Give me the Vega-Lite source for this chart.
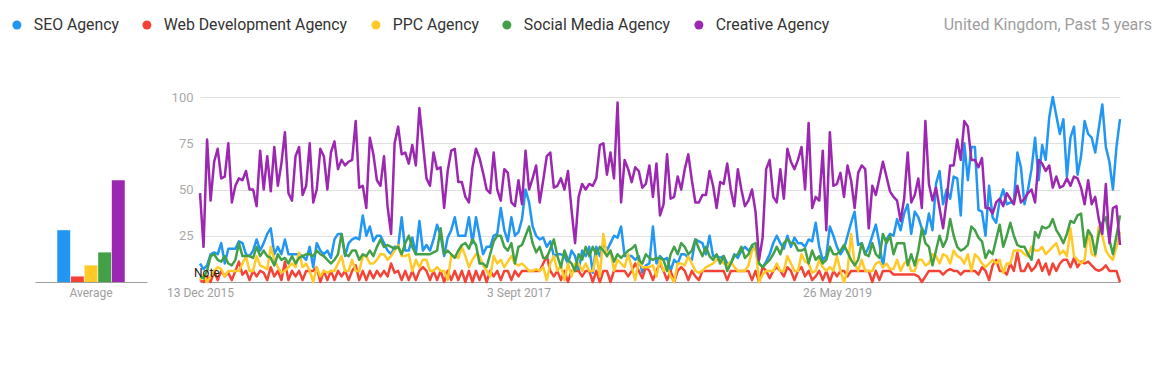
{
"$schema": "https://vega.github.io/schema/vega-lite/v6.json",
"background": "white",
"padding": {"left": 9, "top": 17, "right": 5, "bottom": 5},
"bounds": "flush",
"spacing": 53,
"config": {"font": "Roboto", "view": {"stroke": null}, "axis": {"labelFont": "Roboto"}, "legend": {"labelFont": "Roboto"}},
"datasets": {
"names": [
{"k":"S","name":"SEO Agency","avg":28,"g":"Average"},
{"k":"W","name":"Web Development Agency","avg":3,"g":"Average"},
{"k":"P","name":"PPC Agency","avg":9,"g":"Average"},
{"k":"M","name":"Social Media Agency","avg":16,"g":"Average"},
{"k":"C","name":"Creative Agency","avg":55,"g":"Average"}
],
"trends": [
{"d":"2015-12-13","S":10,"W":1,"P":1,"M":3,"C":48},
{"d":"2015-12-20","S":7,"W":0,"P":4,"M":2,"C":19},
{"d":"2015-12-27","S":9,"W":3,"P":0,"M":6,"C":77},
{"d":"2016-01-03","S":15,"W":0,"P":3,"M":14,"C":44},
{"d":"2016-01-10","S":16,"W":6,"P":6,"M":15,"C":65},
{"d":"2016-01-17","S":15,"W":1,"P":8,"M":12,"C":72},
{"d":"2016-01-24","S":21,"W":6,"P":7,"M":11,"C":56},
{"d":"2016-01-31","S":10,"W":3,"P":3,"M":14,"C":57},
{"d":"2016-02-07","S":18,"W":5,"P":6,"M":10,"C":75},
{"d":"2016-02-14","S":18,"W":1,"P":6,"M":9,"C":43},
{"d":"2016-02-21","S":18,"W":6,"P":6,"M":12,"C":52},
{"d":"2016-02-28","S":22,"W":11,"P":6,"M":21,"C":56},
{"d":"2016-03-06","S":21,"W":4,"P":10,"M":14,"C":55},
{"d":"2016-03-13","S":15,"W":6,"P":14,"M":14,"C":60},
{"d":"2016-03-20","S":14,"W":1,"P":6,"M":14,"C":50},
{"d":"2016-03-27","S":17,"W":6,"P":6,"M":13,"C":50},
{"d":"2016-04-03","S":23,"W":3,"P":14,"M":19,"C":41},
{"d":"2016-04-10","S":17,"W":6,"P":9,"M":14,"C":71},
{"d":"2016-04-17","S":21,"W":5,"P":8,"M":17,"C":50},
{"d":"2016-04-24","S":26,"W":1,"P":7,"M":14,"C":68},
{"d":"2016-05-01","S":29,"W":8,"P":19,"M":13,"C":49},
{"d":"2016-05-08","S":15,"W":3,"P":12,"M":9,"C":73},
{"d":"2016-05-15","S":19,"W":6,"P":8,"M":15,"C":52},
{"d":"2016-05-22","S":15,"W":1,"P":5,"M":12,"C":64},
{"d":"2016-05-29","S":23,"W":11,"P":6,"M":13,"C":81},
{"d":"2016-06-05","S":15,"W":1,"P":8,"M":10,"C":48},
{"d":"2016-06-12","S":15,"W":6,"P":10,"M":14,"C":44},
{"d":"2016-06-19","S":15,"W":3,"P":8,"M":10,"C":68},
{"d":"2016-06-26","S":15,"W":6,"P":16,"M":13,"C":73},
{"d":"2016-07-03","S":14,"W":1,"P":8,"M":14,"C":47},
{"d":"2016-07-10","S":12,"W":6,"P":10,"M":15,"C":52},
{"d":"2016-07-17","S":19,"W":6,"P":6,"M":15,"C":75},
{"d":"2016-07-24","S":8,"W":6,"P":0,"M":14,"C":43},
{"d":"2016-07-31","S":21,"W":8,"P":8,"M":17,"C":50},
{"d":"2016-08-07","S":17,"W":0,"P":3,"M":15,"C":72},
{"d":"2016-08-14","S":15,"W":6,"P":6,"M":14,"C":68},
{"d":"2016-08-21","S":17,"W":1,"P":5,"M":12,"C":50},
{"d":"2016-08-28","S":13,"W":6,"P":6,"M":10,"C":70},
{"d":"2016-09-04","S":23,"W":1,"P":6,"M":12,"C":76},
{"d":"2016-09-11","S":26,"W":6,"P":10,"M":15,"C":61},
{"d":"2016-09-18","S":26,"W":3,"P":14,"M":26,"C":66},
{"d":"2016-09-25","S":14,"W":6,"P":6,"M":15,"C":63},
{"d":"2016-10-02","S":21,"W":1,"P":6,"M":14,"C":65},
{"d":"2016-10-09","S":23,"W":6,"P":12,"M":17,"C":66},
{"d":"2016-10-16","S":24,"W":9,"P":6,"M":17,"C":87},
{"d":"2016-10-23","S":23,"W":1,"P":6,"M":12,"C":51},
{"d":"2016-10-30","S":36,"W":6,"P":14,"M":15,"C":52},
{"d":"2016-11-06","S":25,"W":1,"P":14,"M":14,"C":40},
{"d":"2016-11-13","S":30,"W":6,"P":10,"M":17,"C":78},
{"d":"2016-11-20","S":22,"W":2,"P":10,"M":14,"C":69},
{"d":"2016-11-27","S":25,"W":6,"P":12,"M":19,"C":55},
{"d":"2016-12-04","S":25,"W":3,"P":15,"M":23,"C":52},
{"d":"2016-12-11","S":21,"W":6,"P":15,"M":19,"C":68},
{"d":"2016-12-18","S":17,"W":3,"P":12,"M":20,"C":41},
{"d":"2016-12-25","S":15,"W":10,"P":14,"M":19,"C":26},
{"d":"2017-01-01","S":19,"W":5,"P":17,"M":18,"C":75},
{"d":"2017-01-08","S":19,"W":6,"P":20,"M":19,"C":84},
{"d":"2017-01-15","S":35,"W":1,"P":14,"M":15,"C":69},
{"d":"2017-01-22","S":17,"W":6,"P":14,"M":21,"C":70},
{"d":"2017-01-29","S":17,"W":1,"P":15,"M":25,"C":64},
{"d":"2017-02-05","S":24,"W":6,"P":6,"M":19,"C":74},
{"d":"2017-02-12","S":15,"W":1,"P":12,"M":15,"C":63},
{"d":"2017-02-19","S":33,"W":6,"P":8,"M":15,"C":94},
{"d":"2017-02-26","S":17,"W":8,"P":12,"M":15,"C":75},
{"d":"2017-03-05","S":20,"W":6,"P":12,"M":15,"C":56},
{"d":"2017-03-12","S":17,"W":1,"P":6,"M":15,"C":52},
{"d":"2017-03-19","S":23,"W":6,"P":6,"M":16,"C":70},
{"d":"2017-03-26","S":31,"W":1,"P":8,"M":17,"C":61},
{"d":"2017-04-02","S":25,"W":6,"P":6,"M":29,"C":62},
{"d":"2017-04-09","S":14,"W":0,"P":6,"M":15,"C":40},
{"d":"2017-04-16","S":24,"W":6,"P":1,"M":17,"C":60},
{"d":"2017-04-23","S":28,"W":1,"P":14,"M":15,"C":71},
{"d":"2017-04-30","S":35,"W":6,"P":14,"M":13,"C":72},
{"d":"2017-05-07","S":25,"W":1,"P":13,"M":17,"C":54},
{"d":"2017-05-14","S":25,"W":6,"P":19,"M":20,"C":54},
{"d":"2017-05-21","S":25,"W":0,"P":14,"M":21,"C":46},
{"d":"2017-05-28","S":35,"W":6,"P":8,"M":18,"C":43},
{"d":"2017-06-04","S":21,"W":0,"P":12,"M":23,"C":62},
{"d":"2017-06-11","S":35,"W":6,"P":15,"M":20,"C":72},
{"d":"2017-06-18","S":25,"W":1,"P":14,"M":10,"C":67},
{"d":"2017-06-25","S":15,"W":6,"P":9,"M":10,"C":59},
{"d":"2017-07-02","S":19,"W":0,"P":6,"M":8,"C":50},
{"d":"2017-07-09","S":19,"W":6,"P":3,"M":15,"C":48},
{"d":"2017-07-16","S":25,"W":3,"P":14,"M":22,"C":70},
{"d":"2017-07-23","S":26,"W":6,"P":10,"M":25,"C":50},
{"d":"2017-07-30","S":40,"W":1,"P":12,"M":25,"C":44},
{"d":"2017-08-06","S":28,"W":6,"P":8,"M":19,"C":61},
{"d":"2017-08-13","S":22,"W":6,"P":11,"M":17,"C":59},
{"d":"2017-08-20","S":35,"W":1,"P":14,"M":21,"C":43},
{"d":"2017-08-27","S":25,"W":6,"P":10,"M":10,"C":41},
{"d":"2017-09-03","S":27,"W":3,"P":9,"M":19,"C":55},
{"d":"2017-09-10","S":34,"W":6,"P":10,"M":20,"C":42},
{"d":"2017-09-17","S":50,"W":6,"P":8,"M":25,"C":71},
{"d":"2017-09-24","S":43,"W":6,"P":6,"M":30,"C":50},
{"d":"2017-10-01","S":30,"W":6,"P":6,"M":21,"C":56},
{"d":"2017-10-08","S":25,"W":6,"P":7,"M":16,"C":63},
{"d":"2017-10-15","S":23,"W":6,"P":6,"M":19,"C":43},
{"d":"2017-10-22","S":24,"W":10,"P":8,"M":13,"C":55},
{"d":"2017-10-29","S":19,"W":14,"P":1,"M":13,"C":68},
{"d":"2017-11-05","S":22,"W":6,"P":10,"M":18,"C":70},
{"d":"2017-11-12","S":14,"W":3,"P":14,"M":23,"C":51},
{"d":"2017-11-19","S":15,"W":6,"P":6,"M":14,"C":52},
{"d":"2017-11-26","S":15,"W":1,"P":9,"M":8,"C":56},
{"d":"2017-12-03","S":14,"W":6,"P":1,"M":17,"C":50},
{"d":"2017-12-10","S":10,"W":0,"P":10,"M":12,"C":60},
{"d":"2017-12-17","S":17,"W":6,"P":3,"M":10,"C":39},
{"d":"2017-12-24","S":14,"W":6,"P":10,"M":6,"C":21},
{"d":"2017-12-31","S":6,"W":6,"P":10,"M":15,"C":46},
{"d":"2018-01-07","S":17,"W":3,"P":6,"M":12,"C":53},
{"d":"2018-01-14","S":14,"W":6,"P":10,"M":19,"C":50},
{"d":"2018-01-21","S":19,"W":6,"P":6,"M":14,"C":53},
{"d":"2018-01-28","S":5,"W":0,"P":6,"M":19,"C":52},
{"d":"2018-02-04","S":19,"W":6,"P":15,"M":15,"C":56},
{"d":"2018-02-11","S":14,"W":0,"P":3,"M":19,"C":74},
{"d":"2018-02-18","S":21,"W":6,"P":26,"M":17,"C":75},
{"d":"2018-02-25","S":17,"W":6,"P":14,"M":14,"C":58},
{"d":"2018-03-04","S":21,"W":0,"P":17,"M":17,"C":70},
{"d":"2018-03-11","S":25,"W":6,"P":6,"M":11,"C":56},
{"d":"2018-03-18","S":24,"W":6,"P":12,"M":15,"C":97},
{"d":"2018-03-25","S":30,"W":6,"P":10,"M":13,"C":43},
{"d":"2018-04-01","S":14,"W":6,"P":8,"M":15,"C":66},
{"d":"2018-04-08","S":14,"W":3,"P":15,"M":17,"C":61},
{"d":"2018-04-15","S":14,"W":6,"P":8,"M":18,"C":54},
{"d":"2018-04-22","S":12,"W":10,"P":1,"M":20,"C":62},
{"d":"2018-04-29","S":14,"W":6,"P":12,"M":12,"C":60},
{"d":"2018-05-06","S":5,"W":2,"P":8,"M":10,"C":51},
{"d":"2018-05-13","S":9,"W":8,"P":8,"M":15,"C":53},
{"d":"2018-05-20","S":10,"W":6,"P":8,"M":13,"C":63},
{"d":"2018-05-27","S":30,"W":1,"P":9,"M":12,"C":46},
{"d":"2018-06-03","S":10,"W":6,"P":3,"M":13,"C":64},
{"d":"2018-06-10","S":14,"W":10,"P":12,"M":13,"C":36},
{"d":"2018-06-17","S":12,"W":6,"P":6,"M":12,"C":42},
{"d":"2018-06-24","S":13,"W":1,"P":8,"M":6,"C":69},
{"d":"2018-07-01","S":6,"W":6,"P":3,"M":15,"C":45},
{"d":"2018-07-08","S":12,"W":0,"P":0,"M":19,"C":46},
{"d":"2018-07-15","S":10,"W":6,"P":10,"M":15,"C":57},
{"d":"2018-07-22","S":15,"W":8,"P":10,"M":21,"C":50},
{"d":"2018-07-29","S":15,"W":6,"P":9,"M":19,"C":61},
{"d":"2018-08-05","S":13,"W":1,"P":14,"M":15,"C":69},
{"d":"2018-08-12","S":12,"W":6,"P":10,"M":17,"C":55},
{"d":"2018-08-19","S":23,"W":3,"P":6,"M":23,"C":43},
{"d":"2018-08-26","S":22,"W":1,"P":5,"M":18,"C":43},
{"d":"2018-09-02","S":21,"W":6,"P":6,"M":14,"C":47},
{"d":"2018-09-09","S":15,"W":6,"P":8,"M":19,"C":47},
{"d":"2018-09-16","S":25,"W":6,"P":9,"M":14,"C":60},
{"d":"2018-09-23","S":14,"W":6,"P":10,"M":12,"C":52},
{"d":"2018-09-30","S":14,"W":6,"P":12,"M":15,"C":40},
{"d":"2018-10-07","S":13,"W":6,"P":12,"M":10,"C":54},
{"d":"2018-10-14","S":14,"W":6,"P":10,"M":14,"C":53},
{"d":"2018-10-21","S":10,"W":1,"P":9,"M":6,"C":64},
{"d":"2018-10-28","S":10,"W":6,"P":11,"M":10,"C":50},
{"d":"2018-11-04","S":15,"W":6,"P":8,"M":14,"C":41},
{"d":"2018-11-11","S":13,"W":6,"P":6,"M":15,"C":61},
{"d":"2018-11-18","S":17,"W":6,"P":6,"M":19,"C":50},
{"d":"2018-11-25","S":19,"W":6,"P":6,"M":13,"C":41},
{"d":"2018-12-02","S":17,"W":6,"P":9,"M":15,"C":44},
{"d":"2018-12-09","S":19,"W":1,"P":17,"M":20,"C":50},
{"d":"2018-12-16","S":18,"W":6,"P":19,"M":21,"C":38},
{"d":"2018-12-23","S":10,"W":0,"P":0,"M":10,"C":12},
{"d":"2018-12-30","S":8,"W":8,"P":4,"M":8,"C":24},
{"d":"2019-01-06","S":11,"W":6,"P":6,"M":10,"C":61},
{"d":"2019-01-13","S":15,"W":2,"P":6,"M":12,"C":66},
{"d":"2019-01-20","S":21,"W":6,"P":6,"M":15,"C":46},
{"d":"2019-01-27","S":25,"W":8,"P":10,"M":19,"C":43},
{"d":"2019-02-03","S":21,"W":6,"P":6,"M":15,"C":61},
{"d":"2019-02-10","S":18,"W":3,"P":6,"M":21,"C":45},
{"d":"2019-02-17","S":25,"W":8,"P":14,"M":23,"C":72},
{"d":"2019-02-24","S":19,"W":6,"P":10,"M":21,"C":65},
{"d":"2019-03-03","S":24,"W":1,"P":6,"M":21,"C":61},
{"d":"2019-03-10","S":21,"W":6,"P":6,"M":17,"C":66},
{"d":"2019-03-17","S":21,"W":8,"P":15,"M":17,"C":73},
{"d":"2019-03-24","S":19,"W":3,"P":11,"M":18,"C":50},
{"d":"2019-03-31","S":23,"W":6,"P":10,"M":10,"C":86},
{"d":"2019-04-07","S":22,"W":1,"P":5,"M":17,"C":40},
{"d":"2019-04-14","S":32,"W":3,"P":6,"M":12,"C":46},
{"d":"2019-04-21","S":19,"W":6,"P":12,"M":14,"C":44},
{"d":"2019-04-28","S":12,"W":1,"P":8,"M":10,"C":71},
{"d":"2019-05-05","S":14,"W":6,"P":6,"M":12,"C":28},
{"d":"2019-05-12","S":30,"W":0,"P":8,"M":19,"C":81},
{"d":"2019-05-19","S":25,"W":6,"P":6,"M":15,"C":52},
{"d":"2019-05-26","S":19,"W":3,"P":14,"M":15,"C":53},
{"d":"2019-06-02","S":15,"W":6,"P":6,"M":17,"C":59},
{"d":"2019-06-09","S":18,"W":6,"P":0,"M":20,"C":46},
{"d":"2019-06-16","S":25,"W":3,"P":6,"M":16,"C":63},
{"d":"2019-06-23","S":32,"W":6,"P":26,"M":12,"C":55},
{"d":"2019-06-30","S":38,"W":6,"P":10,"M":9,"C":40},
{"d":"2019-07-07","S":20,"W":6,"P":6,"M":12,"C":59},
{"d":"2019-07-14","S":21,"W":6,"P":12,"M":21,"C":63},
{"d":"2019-07-21","S":15,"W":6,"P":6,"M":15,"C":61},
{"d":"2019-07-28","S":19,"W":6,"P":6,"M":14,"C":29},
{"d":"2019-08-04","S":25,"W":0,"P":6,"M":21,"C":52},
{"d":"2019-08-11","S":31,"W":6,"P":10,"M":15,"C":47},
{"d":"2019-08-18","S":21,"W":1,"P":11,"M":13,"C":56},
{"d":"2019-08-25","S":8,"W":6,"P":8,"M":26,"C":65},
{"d":"2019-09-01","S":23,"W":6,"P":10,"M":21,"C":57},
{"d":"2019-09-08","S":26,"W":6,"P":7,"M":25,"C":49},
{"d":"2019-09-15","S":25,"W":4,"P":7,"M":15,"C":46},
{"d":"2019-09-22","S":34,"W":4,"P":12,"M":21,"C":44},
{"d":"2019-09-29","S":28,"W":4,"P":6,"M":21,"C":33},
{"d":"2019-10-06","S":37,"W":4,"P":10,"M":21,"C":45},
{"d":"2019-10-13","S":42,"W":4,"P":12,"M":9,"C":70},
{"d":"2019-10-20","S":26,"W":4,"P":6,"M":15,"C":43},
{"d":"2019-10-27","S":38,"W":4,"P":6,"M":9,"C":47},
{"d":"2019-11-03","S":35,"W":3,"P":12,"M":17,"C":56},
{"d":"2019-11-10","S":29,"W":0,"P":12,"M":29,"C":40},
{"d":"2019-11-17","S":26,"W":3,"P":9,"M":21,"C":87},
{"d":"2019-11-24","S":37,"W":6,"P":10,"M":19,"C":53},
{"d":"2019-12-01","S":28,"W":6,"P":15,"M":9,"C":44},
{"d":"2019-12-08","S":53,"W":6,"P":14,"M":17,"C":51},
{"d":"2019-12-15","S":60,"W":6,"P":10,"M":25,"C":40},
{"d":"2019-12-22","S":42,"W":4,"P":15,"M":19,"C":29},
{"d":"2019-12-29","S":50,"W":6,"P":14,"M":23,"C":44},
{"d":"2020-01-05","S":45,"W":7,"P":10,"M":34,"C":63},
{"d":"2020-01-12","S":57,"W":6,"P":17,"M":25,"C":63},
{"d":"2020-01-19","S":56,"W":6,"P":14,"M":19,"C":77},
{"d":"2020-01-26","S":36,"W":4,"P":13,"M":17,"C":66},
{"d":"2020-02-02","S":75,"W":6,"P":10,"M":18,"C":87},
{"d":"2020-02-09","S":55,"W":6,"P":15,"M":20,"C":84},
{"d":"2020-02-16","S":73,"W":6,"P":6,"M":30,"C":66},
{"d":"2020-02-23","S":73,"W":6,"P":15,"M":28,"C":66},
{"d":"2020-03-01","S":39,"W":4,"P":13,"M":24,"C":62},
{"d":"2020-03-08","S":38,"W":8,"P":10,"M":22,"C":67},
{"d":"2020-03-15","S":25,"W":6,"P":8,"M":13,"C":40},
{"d":"2020-03-22","S":52,"W":1,"P":10,"M":17,"C":40},
{"d":"2020-03-29","S":35,"W":9,"P":12,"M":15,"C":37},
{"d":"2020-04-05","S":32,"W":12,"P":10,"M":23,"C":43},
{"d":"2020-04-12","S":44,"W":6,"P":12,"M":31,"C":45},
{"d":"2020-04-19","S":50,"W":6,"P":5,"M":19,"C":41},
{"d":"2020-04-26","S":42,"W":4,"P":10,"M":25,"C":48},
{"d":"2020-05-03","S":43,"W":10,"P":10,"M":32,"C":45},
{"d":"2020-05-10","S":43,"W":6,"P":17,"M":25,"C":42},
{"d":"2020-05-17","S":70,"W":16,"P":17,"M":20,"C":52},
{"d":"2020-05-24","S":62,"W":6,"P":17,"M":19,"C":43},
{"d":"2020-05-31","S":42,"W":6,"P":15,"M":19,"C":45},
{"d":"2020-06-07","S":50,"W":10,"P":14,"M":15,"C":48},
{"d":"2020-06-14","S":61,"W":6,"P":19,"M":12,"C":50},
{"d":"2020-06-21","S":78,"W":8,"P":17,"M":27,"C":43},
{"d":"2020-06-28","S":55,"W":12,"P":17,"M":24,"C":66},
{"d":"2020-07-05","S":74,"W":6,"P":19,"M":30,"C":64},
{"d":"2020-07-12","S":66,"W":10,"P":15,"M":29,"C":60},
{"d":"2020-07-19","S":89,"W":4,"P":17,"M":30,"C":63},
{"d":"2020-07-26","S":100,"W":10,"P":19,"M":34,"C":51},
{"d":"2020-08-02","S":90,"W":6,"P":21,"M":28,"C":57},
{"d":"2020-08-09","S":80,"W":10,"P":15,"M":25,"C":51},
{"d":"2020-08-16","S":88,"W":12,"P":17,"M":21,"C":52},
{"d":"2020-08-23","S":57,"W":12,"P":14,"M":26,"C":56},
{"d":"2020-08-30","S":78,"W":8,"P":29,"M":33,"C":52},
{"d":"2020-09-06","S":84,"W":13,"P":14,"M":32,"C":57},
{"d":"2020-09-13","S":58,"W":8,"P":12,"M":36,"C":56},
{"d":"2020-09-20","S":68,"W":11,"P":10,"M":37,"C":51},
{"d":"2020-09-27","S":87,"W":10,"P":12,"M":19,"C":42},
{"d":"2020-10-04","S":80,"W":11,"P":28,"M":28,"C":55},
{"d":"2020-10-11","S":78,"W":9,"P":15,"M":25,"C":42},
{"d":"2020-10-18","S":70,"W":7,"P":14,"M":15,"C":46},
{"d":"2020-10-25","S":83,"W":6,"P":30,"M":26,"C":34},
{"d":"2020-11-01","S":96,"W":7,"P":25,"M":32,"C":26},
{"d":"2020-11-08","S":73,"W":9,"P":17,"M":35,"C":53},
{"d":"2020-11-15","S":65,"W":6,"P":14,"M":23,"C":21},
{"d":"2020-11-22","S":50,"W":6,"P":12,"M":15,"C":40},
{"d":"2020-11-29","S":73,"W":6,"P":19,"M":25,"C":41},
{"d":"2020-12-06","S":88,"W":0,"P":27,"M":36,"C":20}
]
},
"hconcat": [
{
"width": 112,
"height": 185,
"data": {"name": "names"},
"mark": {"type": "bar"},
"encoding": {
"x": {"field": "g", "type": "nominal", "scale": {"paddingInner": 0, "paddingOuter": 0.33},
"axis": {"title": null, "labelAngle": 0, "ticks": false, "domainColor": "#9e9e9e", "labelColor": "#9e9e9e", "labelFontSize": 12, "labelPadding": 5}},
"xOffset": {"field": "name", "type": "nominal", "sort": ["SEO Agency","Web Development Agency","PPC Agency","Social Media Agency","Creative Agency"], "scale": {"paddingInner": 0.05, "paddingOuter": 0}},
"y": {"field": "avg", "type": "quantitative", "scale": {"domain": [0, 100], "nice": false}, "axis": null},
"color": {"field": "name", "type": "nominal",
"scale": {"domain": ["SEO Agency","Web Development Agency","PPC Agency","Social Media Agency","Creative Agency"], "range": ["#2196F3","#F44336","#FFCA28","#43A047","#9C27B0"]},
"legend": {"orient": "none", "direction": "horizontal", "columns": 5, "legendX": -26, "legendY": -80, "title": null, "symbolType": "circle", "symbolSize": 81, "symbolStrokeWidth": 0, "labelFontSize": 15.8, "labelColor": "#333333", "labelOffset": 9, "columnPadding": 20, "labelLimit": 300}}
}
},
{
"width": 920,
"height": 185,
"title": {"text": "United Kingdom, Past 5 years", "anchor": "end", "frame": "group", "orient": "top", "fontSize": 16, "fontWeight": "normal", "font": "Roboto", "color": "#9e9e9e", "baseline": "middle", "offset": 50, "dx": 32},
"layer": [
{
"data": {"name": "trends"},
"transform": [
{"fold": ["S","W","P","M","C"], "as": ["k","v"]},
{"lookup": "k", "from": {"data": {"name": "names"}, "key": "k", "fields": ["name"]}}
],
"mark": {"type": "line", "strokeWidth": 2.5, "strokeJoin": "round"},
"encoding": {
"x": {"field": "d", "type": "temporal",
"scale": {"type": "utc", "domain": [{"year": 2015, "month": 12, "date": 13, "utc": true}, {"year": 2020, "month": 12, "date": 6, "utc": true}]},
"axis": {"title": null, "values": [{"year": 2015, "month": 12, "date": 13, "utc": true}, {"year": 2017, "month": 9, "date": 3, "utc": true}, {"year": 2019, "month": 5, "date": 26, "utc": true}],
"labelExpr": "replace(utcFormat(datum.value, '%-d %b %Y'), 'Sep ', 'Sept ')",
"ticks": false, "grid": false, "domainColor": "#9e9e9e", "labelColor": "#9e9e9e", "labelFontSize": 12, "labelPadding": 5, "labelFlush": false, "labelOverlap": false}},
"y": {"field": "v", "type": "quantitative", "scale": {"domain": [0, 100], "nice": false},
"axis": {"title": null, "values": [25, 50, 75, 100], "ticks": false, "domain": false, "grid": true, "gridColor": "#e0e0e0", "labelColor": "#aaaaaa", "labelFontSize": 13, "labelPadding": 7}},
"color": {"field": "name", "type": "nominal", "legend": null}
}
},
{
"data": {"values": [{"d": "2015-12-13", "v": 5, "t": "Note"}]},
"mark": {"type": "text", "align": "left", "baseline": "middle", "dx": -6, "fontSize": 12, "color": "#222222"},
"encoding": {
"x": {"field": "d", "type": "temporal"},
"y": {"field": "v", "type": "quantitative"},
"text": {"field": "t"}
}
}
]
}
],
"resolve": {"scale": {"color": "shared"}, "legend": {"color": "independent"}}
}
